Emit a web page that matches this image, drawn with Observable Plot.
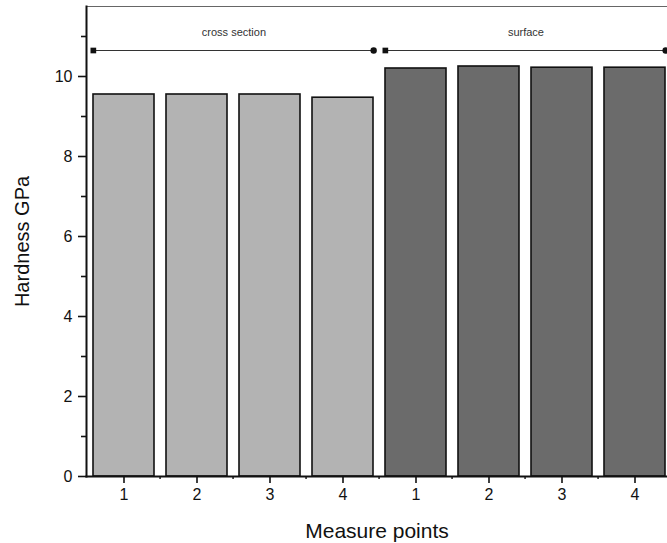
<!DOCTYPE html>
<html><head><meta charset="utf-8">
<script src="https://cdn.jsdelivr.net/npm/d3@7"></script>
<script src="https://cdn.jsdelivr.net/npm/@observablehq/plot@0.6"></script>
<style>
body{margin:0;background:#fff;overflow:hidden;}
#chart svg{display:block;}
</style>
</head><body><div id="chart"></div>
<script>
// ---- data ----
const groups = ["cross section","cross section","cross section","cross section","surface","surface","surface","surface"];
const points = ["1","2","3","4","1","2","3","4"];
const hardness = [9.55, 9.55, 9.55, 9.47, 10.2, 10.25, 10.22, 10.22];
const groupNames = ["cross section","surface"];
const groupColors = ["#b3b3b3","#6b6b6b"];
const yTicks = [0,2,4,6,8,10];
const yMinorTicks = [1,3,5,7,9,11];
const headerLineY = 10.65;
const headerLabelY = 11.1;

// ---- derived ----
const keys = points.map((p,i) => groups[i] + " " + p);
const data = keys.map((k,i) => ({key:k, group:groups[i], point:points[i], hardness:hardness[i]}));
const labelOf = new Map(data.map(d => [d.key, d.point]));
const headers = groupNames.map(g => {
  const ks = keys.filter((k,i) => groups[i] === g);
  return {group:g, first:ks[0], last:ks[ks.length-1], mid:ks[ks.length/2-1], y:headerLineY, ly:headerLabelY};
});

// ---- layout ----
const W = 667, H = 543, ML = 86, MT = 6, MB = 67;
const xRange = [83, 674], padIn = 0.17;
const step = (xRange[1]-xRange[0]) / keys.length;
const bw = step * (1 - padIn);
const ink = "#111";

const chart = Plot.plot({
  width: W, height: H,
  marginLeft: ML, marginRight: 0, marginTop: MT, marginBottom: MB,
  style: {fontFamily: "'Liberation Sans', Arial, sans-serif", color: ink, background: "#fff"},
  x: {type: "band", domain: keys, range: xRange, paddingInner: padIn, paddingOuter: padIn/2, label: null},
  y: {domain: [0, 11.75], label: null},
  color: {domain: groupNames, range: groupColors},
  marks: [
    Plot.barY(data, {x: "key", y: "hardness", fill: "group", stroke: ink, strokeWidth: 1.6}),
    Plot.frame({anchor: "top", stroke: "#666", strokeWidth: 1}),
    Plot.frame({anchor: "left", stroke: ink, strokeWidth: 2}),
    Plot.frame({anchor: "bottom", stroke: ink, strokeWidth: 2}),
    Plot.axisY({ticks: yTicks, tickSize: 8, tickPadding: 6, fontSize: 16, label: null, stroke: ink, strokeWidth: 1.6, strokeOpacity: 1}),
    Plot.axisY({ticks: yMinorTicks, tickSize: 5, tickFormat: () => "", label: null, stroke: ink, strokeWidth: 1.6, strokeOpacity: 1}),
    Plot.axisY({ticks: [], label: "Hardness GPa", labelArrow: "none", labelAnchor: "center", labelOffset: 72, fontSize: 20}),
    Plot.axisX({tickSize: 7, tickPadding: 5, tickFormat: k => labelOf.get(k), fontSize: 16, label: null, stroke: ink, strokeWidth: 1.6, strokeOpacity: 1}),
    Plot.axisX({ticks: keys.slice(1), tickSize: 3, dx: -step/2, tickFormat: () => "", label: null, stroke: ink, strokeWidth: 1.4, strokeOpacity: 1}),
    Plot.axisX({ticks: [], label: "Measure points", labelArrow: "none", labelAnchor: "center", labelOffset: 61, fontSize: 21}),
    Plot.ruleY(headers, {x1: "first", x2: "last", y: "y", stroke: "#333", strokeWidth: 1}),
    Plot.dot(headers, {x: "first", y: "y", dx: -bw/2, symbol: "square", r: 3.2, fill: ink, stroke: "none"}),
    Plot.dot(headers, {x: "last", y: "y", dx: bw/2, symbol: "circle", r: 3.2, fill: ink, stroke: "none"}),
    Plot.text(headers, {x: "mid", y: "ly", dx: step/2, text: "group", fontSize: 11, fill: "#333"})
  ]
});
document.getElementById("chart").append(chart);
</script>
</body></html>
